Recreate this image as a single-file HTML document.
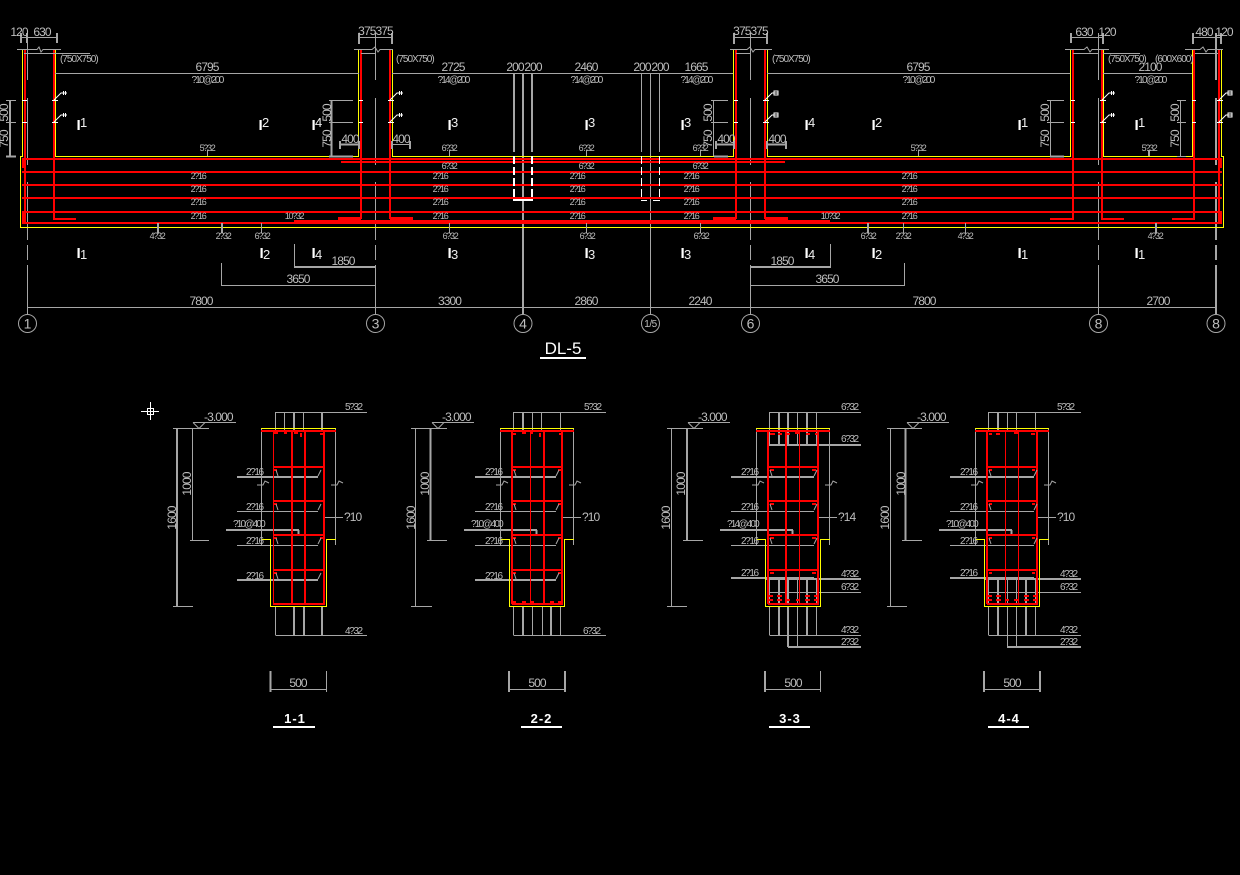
<!DOCTYPE html>
<html><head><meta charset="utf-8"><title>DL-5</title>
<style>
html,body{margin:0;padding:0;background:#000;width:1240px;height:875px;overflow:hidden}
svg{display:block}
path{fill:none;shape-rendering:crispEdges}
.g{stroke:#a6a6a6;stroke-width:1}
.G{stroke:#a6a6a6;stroke-width:2}
.r{stroke:#f00;stroke-width:2}
.R{stroke:#f00;stroke-width:3}
.n{stroke:#f00;stroke-width:1}
.y{stroke:#ff0;stroke-width:1}
.w{stroke:#fff;stroke-width:1}
.W{stroke:#fff;stroke-width:2}
.a{shape-rendering:auto}
text{font-family:"Liberation Sans",sans-serif;fill:#bdbdbd}
.t{font-size:12px;letter-spacing:-.9px;text-anchor:middle}
.l{font-size:12px;letter-spacing:-.9px}
.s{font-size:9px;letter-spacing:-1.3px;text-anchor:middle}
.m{font-size:10px;letter-spacing:-1.8px;text-anchor:middle}
.p{font-size:10px;letter-spacing:-1px}
.q{font-size:10px;letter-spacing:-1.4px}
.k{font-size:10px;letter-spacing:-1.8px}
.b{font-size:15px;font-weight:bold;fill:#fff}
.d{font-size:13px;fill:#eee}
.c{font-size:14px;text-anchor:middle}
.h{font-size:13px;font-weight:bold;fill:#fff;text-anchor:middle;letter-spacing:1px}
</style></head><body>
<svg width="1240" height="875" viewBox="0 0 1240 875" xmlns="http://www.w3.org/2000/svg">
<rect width="1240" height="875" fill="#000"/>

<!-- axes -->
<path class="g" d="M27.5 33V80M27.5 98V165M27.5 182V240M27.5 245V260M27.5 265V314
M375.5 33V80M375.5 98V165M375.5 182V240M375.5 245V260M375.5 265V314
M750.5 33V80M750.5 98V165M750.5 182V240M750.5 245V260M750.5 265V314
M1098.5 33V80M1098.5 98V165M1098.5 182V240M1098.5 245V260M1098.5 265V314
M650.5 73V314M641.5 73V152M659.5 73V152"/>
<path class="G" d="M1216 33V80M1216 98V165M1216 182V240M1216 245V260M1216 265V314M523 73V314M514 73V152M532 73V152"/>

<!-- yellow outline -->
<path class="y" d="M22.5 50V156.5H20.5V227.5H1223.5V156.5H1221.5V50M55.5 50V156.5H358.5V50M392.5 50V156.5H733.5V50M767.5 50V156.5H1070.5V50M1103.5 50V156.5H1192.5V50"/>

<!-- red -->
<path class="r" d="M22 159H1222M22 172H1222M22 185H1222M22 198H1222M22 212H1222M22 223H1222M25 49V222M54 49V219H76M361 49V219M390 49V219M736 49V219M765 49V219M1073 49V219H1050M1102 49V219H1124M1194 49V219H1172M1219 49V222"/>
<path class="r" d="M341 162H785"/>
<path class="R" d="M294 221.500H830M338 218.500H361M390 218.500H413M713 218.500H736M765 218.500H788M23.500 158V168M23.500 212V222M1220.500 158V168M1220.500 212V222"/>

<!-- white details -->
<path class="w" d="M22 100.500H27M22 122.500H27M52 100.500H58M52 122.500H58M359 100.500H363M359 122.500H363M388 100.500H394M388 122.500H394M734 100.500H738M734 122.500H738M763 100.500H769M763 122.500H769M1071 100.500H1075M1071 122.500H1075M1100 100.500H1106M1100 122.500H1106M1192 100.500H1196M1192 122.500H1196M1217 100.500H1223M1217 122.500H1223"/>
<path class="w a" d="M54 100L61 93H67M54 122L61 115H67M390 100L397 93H403M390 122L397 115H403M765 100L772 93H778M765 122L772 115H778M1102 100L1109 93H1115M1102 122L1109 115H1115M1219 100L1226 93H1232M1219 122L1226 115H1232"/>
<path class="w" d="M63.500 91V95M65.500 91V95M63.500 113V117M65.500 113V117M399.500 91V95M401.500 91V95M399.500 113V117M401.500 113V117M1111.500 91V95M1113.500 91V95M1111.500 113V117M1113.500 113V117M774 91V95H778V91ZM774 113V117H778V113ZM1228 91V95H1232V91ZM1228 113V117H1232V113Z"/>
<path class="W" d="M514 156V200M532 156V200" stroke-dasharray="8 3"/>
<path class="W" d="M513 200H524M524 200H533"/>
<path class="w" d="M641.500 156V200M659.500 156V200" stroke-dasharray="8 3"/>
<path class="w" d="M641 200.500H647M653 200.500H660"/>

<!-- top dims -->
<path class="G" d="M21 33V43M27 33V43M57 33V43M359 33V44M392 33V44M734 33V44M767 33V44M1071 33V43M1103 33V44M1193 33V44M1221 33V44"/>
<path class="g" d="M21 37.500H57M358 37.500H393M733 37.500H768M1070 37.500H1104M1192 37.500H1222
M24 53.500H90M361 53.500H375M736 53.500H750M1073 53.500H1098M1103 53.500H1140M1195 53.500H1218
M55 73.500H359M392 73.500H733M767 73.500H1070M1103 73.500H1192"/>
<path class="g a" d="M17 49.500H37L39 47L41 52L43 49.500H61M354 49.500H372L375 47L378 52L380 49.500H393M730 49.500H747L750 47L753 52L755 49.500H772M1065 49.500H1084L1087 47L1090 52L1092 49.500H1109M1185 49.500H1200L1203 47L1206 52L1208 49.500H1223"/>
<text class="t" x="19" y="36">120</text><text class="t" x="42" y="36">630</text>
<text class="t" x="375.500" y="35">375375</text><text class="t" x="750.500" y="35">375375</text>
<text class="t" x="1084" y="36">630</text><text class="t" x="1107" y="36">120</text>
<text class="t" x="1204" y="36">480</text><text class="t" x="1224" y="36">120</text>
<text class="p" x="60" y="62">(750X750)</text><text class="p" x="396" y="62">(750X750)</text><text class="p" x="772" y="62">(750X750)</text><text class="p" x="1108" y="62">(750X750)</text><text class="p" x="1155" y="62">(600X600)</text>
<text class="t" x="207" y="71">6795</text><text class="t" x="453" y="71">2725</text><text class="t" x="586" y="71">2460</text><text class="t" x="696" y="71">1665</text><text class="t" x="918" y="71">6795</text><text class="t" x="1150" y="71">2100</text>
<text class="t" x="515" y="71">200</text><text class="t" x="533" y="71">200</text><text class="t" x="642" y="71">200</text><text class="t" x="660" y="71">200</text>
<text class="m" x="207" y="83">?10@200</text><text class="m" x="453" y="83">?14@200</text><text class="m" x="586" y="83">?14@200</text><text class="m" x="696" y="83">?14@200</text><text class="m" x="918" y="83">?10@200</text><text class="m" x="1150" y="83">?10@200</text>

<!-- side dims -->
<path class="G" d="M10 100V156M6 156.500H16M331.500 100V156M329 156.500H353M1050 156.500H1064M714 156.500H728"/>
<path class="g" d="M6 100.500H16M6 122.500H16M329 100.500H353M329 122.500H353M713.500 100V156M711 100.500H728M711 122.500H728M1050.500 100V156M1047 100.500H1064M1047 122.500H1064M1180.500 100V156M1177 100.500H1186M1177 122.500H1186M1177 156.500H1186"/>
<text class="t" transform="rotate(-90 8 113)" x="8" y="113">500</text><text class="t" transform="rotate(-90 8 139)" x="8" y="139">750</text>
<text class="t" transform="rotate(-90 331 113)" x="331" y="113">500</text><text class="t" transform="rotate(-90 331 139)" x="331" y="139">750</text>
<text class="t" transform="rotate(-90 712 113)" x="712" y="113">500</text><text class="t" transform="rotate(-90 712 139)" x="712" y="139">750</text>
<text class="t" transform="rotate(-90 1049 113)" x="1049" y="113">500</text><text class="t" transform="rotate(-90 1049 139)" x="1049" y="139">750</text>
<text class="t" transform="rotate(-90 1179 113)" x="1179" y="113">500</text><text class="t" transform="rotate(-90 1179 139)" x="1179" y="139">750</text>

<!-- 400 dims -->
<path class="G" d="M340 141V149M359 141V149M392 141V149M410 141V149M716 141V149M734 141V149M767 141V149M786 141V149"/>
<path class="G" d="M340 144.500H359M716 144.500H734M767 144.500H786"/>
<path class="g" d="M392 144.500H410"/>
<text class="t" x="350" y="143">400</text><text class="t" x="401" y="143">400</text><text class="t" x="726" y="143">400</text><text class="t" x="777" y="143">400</text>

<!-- leaders -->
<path class="g" d="M207.500 150V156M449.500 150V156M586.500 150V156M700.500 150V156M918.500 150V156M261.500 223V233M868.500 223V233M903.500 223V233M965.500 223V233M449.500 223V233M586.500 223V233M700.500 223V233"/>
<path class="G" d="M1149 150V156M158 223V233M222 223V233M1156 223V233M868 223V233"/>
<text class="s" x="207" y="151">5?32</text><text class="s" x="449" y="151">6?32</text><text class="s" x="586" y="151">6?32</text><text class="s" x="700" y="151">6?32</text><text class="s" x="918" y="151">5?32</text><text class="s" x="1149" y="151">5?32</text>
<text class="s" x="449" y="169">6?32</text><text class="s" x="586" y="169">6?32</text><text class="s" x="700" y="169">6?32</text>
<text class="s" x="198" y="179">2?16</text><text class="s" x="198" y="192">2?16</text><text class="s" x="198" y="205">2?16</text><text class="s" x="198" y="219">2?16</text>
<text class="s" x="440" y="179">2?16</text><text class="s" x="440" y="192">2?16</text><text class="s" x="440" y="205">2?16</text><text class="s" x="440" y="219">2?16</text>
<text class="s" x="577" y="179">2?16</text><text class="s" x="577" y="192">2?16</text><text class="s" x="577" y="205">2?16</text><text class="s" x="577" y="219">2?16</text>
<text class="s" x="691" y="179">2?16</text><text class="s" x="691" y="192">2?16</text><text class="s" x="691" y="205">2?16</text><text class="s" x="691" y="219">2?16</text>
<text class="s" x="909" y="179">2?16</text><text class="s" x="909" y="192">2?16</text><text class="s" x="909" y="205">2?16</text><text class="s" x="909" y="219">2?16</text>
<text class="s" x="294" y="219">10?32</text><text class="s" x="830" y="219">10?32</text>
<text class="s" x="157" y="239">4?32</text><text class="s" x="223" y="239">2?32</text><text class="s" x="262" y="239">6?32</text><text class="s" x="450" y="239">6?32</text><text class="s" x="587" y="239">6?32</text><text class="s" x="701" y="239">6?32</text><text class="s" x="868" y="239">6?32</text><text class="s" x="903" y="239">2?32</text><text class="s" x="965" y="239">4?32</text><text class="s" x="1155" y="239">4?32</text>

<!-- span labels -->
<text class="b" x="76.500" y="130">I</text><text class="d" x="80" y="127">1</text>
<text class="b" x="258.500" y="130">I</text><text class="d" x="262" y="127">2</text>
<text class="b" x="311.500" y="130">I</text><text class="d" x="315" y="127">4</text>
<text class="b" x="447.500" y="130">I</text><text class="d" x="451" y="127">3</text>
<text class="b" x="584.500" y="130">I</text><text class="d" x="588" y="127">3</text>
<text class="b" x="680.500" y="130">I</text><text class="d" x="684" y="127">3</text>
<text class="b" x="804.500" y="130">I</text><text class="d" x="808" y="127">4</text>
<text class="b" x="871.500" y="130">I</text><text class="d" x="875" y="127">2</text>
<text class="b" x="1017.500" y="130">I</text><text class="d" x="1021" y="127">1</text>
<text class="b" x="1134.500" y="130">I</text><text class="d" x="1138" y="127">1</text>
<text class="b" x="76.500" y="258">I</text><text class="d" x="80" y="259">1</text>
<text class="b" x="259.500" y="258">I</text><text class="d" x="263" y="259">2</text>
<text class="b" x="311.500" y="258">I</text><text class="d" x="315" y="259">4</text>
<text class="b" x="447.500" y="258">I</text><text class="d" x="451" y="259">3</text>
<text class="b" x="584.500" y="258">I</text><text class="d" x="588" y="259">3</text>
<text class="b" x="680.500" y="258">I</text><text class="d" x="684" y="259">3</text>
<text class="b" x="804.500" y="258">I</text><text class="d" x="808" y="259">4</text>
<text class="b" x="871.500" y="258">I</text><text class="d" x="875" y="259">2</text>
<text class="b" x="1017.500" y="258">I</text><text class="d" x="1021" y="259">1</text>
<text class="b" x="1134.500" y="258">I</text><text class="d" x="1138" y="259">1</text>

<!-- lower dims -->
<path class="G" d="M294 267H376M750 267H831"/>
<path class="g" d="M294.500 244V267M830.500 244V267M221.500 263V286M904.500 263V286M221 285.500H376M750 285.500H905M27 307.500H1216"/>
<text class="t" x="343" y="265">1850</text><text class="t" x="782" y="265">1850</text><text class="t" x="298" y="283">3650</text><text class="t" x="827" y="283">3650</text>
<text class="t" x="201" y="305">7800</text><text class="t" x="449.500" y="305">3300</text><text class="t" x="586" y="305">2860</text><text class="t" x="700" y="305">2240</text><text class="t" x="924" y="305">7800</text><text class="t" x="1158" y="305">2700</text>

<!-- axis bubbles -->
<g fill="#000" stroke="#a6a6a6" stroke-width="1">
<circle cx="27.500" cy="323.500" r="9"/><circle cx="375.500" cy="323.500" r="9"/><circle cx="523" cy="323.500" r="9"/><circle cx="650.500" cy="323.500" r="9"/><circle cx="750.500" cy="323.500" r="9"/><circle cx="1098.500" cy="323.500" r="9"/><circle cx="1216" cy="323.500" r="9"/>
</g>
<text class="c" x="27.500" y="328.500">1</text><text class="c" x="375.500" y="328.500">3</text><text class="c" x="523" y="328.500">4</text><text class="c" x="650.500" y="327" style="font-size:10px;letter-spacing:-.5px">1/5</text><text class="c" x="750.500" y="328.500">6</text><text class="c" x="1098.500" y="328.500">8</text><text class="c" x="1216" y="328.500">8</text>

<!-- title -->
<text x="563" y="354" text-anchor="middle" style="font-size:17px;fill:#fff">DL-5</text>
<path class="W" d="M540 358H586"/>

<!-- crosshair -->
<path class="w" d="M141 411.500H159M150.500 402V420M147.500 408.500H153.500V414.500H147.500Z"/>

<!-- ===== Section 1-1 ===== -->
<path class="g" d="M193 422.500H236M173 428.500H209M192.500 428V540M190 540.500H209M173 606.500H193M261.500 428V545M335.500 428V545M275.500 412V430M284.500 412V430M303.500 412V430M275.500 412.500H367M275.500 606V635M275.500 635.500H367M237 511.500H318M237 545.500H318M324 517.500H343M326.500 671V692M271 689.500H327"/>
<path class="g a" d="M193 422.500L199 428.500L205 422.500M257 485H263L265 481L269 483M331 485H337L339 481L343 483"/>
<path class="G" d="M177 428V606M294 412V430M322 412V430M294 606V635M304 606V635M322 606V635M237 477H318M237 580H318M226 530H299M298.500 530V536M270.500 671V692"/>
<path class="y" d="M261 428.500H336M261.500 539.500H270.500V606.500H326.500V539.500H336"/>
<path class="r" d="M261 431H336M292 432V604M305 432V604M273 467H324M273 501H324M273 535H324M273 570H324M273 604H325M324 432V604"/>
<path class="n" d="M273.500 432V604"/>
<path class="r" d="M274 433H278M284 433H287M294 433H298M301 433V437M305 433V436M320 434H324M274 470H277M274 504H277M274 538H277M274 573H277M320 538H324"/>
<path class="g a" d="M276 470L278 476M276 504L278 510M276 538L278 544M276 573L278 579M318 476L321 470M318 510L321 504M318 544L321 538M318 579L321 573"/>
<text class="q" x="246" y="475">2?16</text><text class="q" x="246" y="510">2?16</text><text class="q" x="246" y="544">2?16</text><text class="q" x="246" y="579">2?16</text>
<text class="k" x="233" y="527">?10@400</text><text class="l" x="344" y="521">?10</text>
<text class="q" x="345" y="410">5?32</text><text class="q" x="345" y="634">4?32</text>
<text class="l" x="204" y="421">-3.000</text>
<text class="t" transform="rotate(-90 191 484)" x="191" y="484">1000</text><text class="t" transform="rotate(-90 176 518)" x="176" y="518">1600</text>
<text class="t" x="298" y="687">500</text>
<text class="h" x="295" y="723">1-1</text><path class="W" d="M273 727H315"/>

<!-- ===== Section 2-2 ===== -->
<path class="g" d="M432 422.500H474M411 428.500H447M415.500 428V606M411 606.500H432M427 540.500H447M500.500 428V545M573.500 428V545M513.500 412V430M532.500 412V430M541.500 412V430M560.500 412V430M513.500 412.500H606M513.500 606V635M532.500 606V635M542.500 606V635M560.500 606V635M513.500 635.500H606M475 511.500H556M475 545.500H556M562 517.500H581M509 689.500H565"/>
<path class="g a" d="M432 422.500L438 428.500L444 422.500M496 485H502L504 481L508 483M569 485H575L577 481L581 483"/>
<path class="G" d="M430.500 428V540M523 412V430M523 606V635M551 606V635M475 477H556M475 580H556M464 530H537M536.500 530V536M509 671V692M565 671V692"/>
<path class="y" d="M500 428.500H574M500.500 539.500H509.500V606.500H564.500V539.500H574"/>
<path class="r" d="M500 431H574M512 432V604M562 432V604M544 432V604M512 467H562M512 501H562M512 535H562M512 570H562M512 604H563"/>
<path class="n" d="M530.500 432V604"/>
<path class="r" d="M512 434H516M522 433H526M530 433H533M540 433V437M559 434H562M513 470H516M513 504H516M513 538H516M513 573H516M558 470H561M558 504H561M558 538H561M558 573H561M512 602H516M522 602H526M530 602H534M550 602H554M558 602H562"/>
<path class="g a" d="M514 470L516 476M514 504L516 510M514 538L516 544M514 573L516 579M556 476L559 470M556 510L559 504M556 544L559 538M556 579L559 573"/>
<text class="q" x="485" y="475">2?16</text><text class="q" x="485" y="510">2?16</text><text class="q" x="485" y="544">2?16</text><text class="q" x="485" y="579">2?16</text>
<text class="k" x="471" y="527">?10@400</text><text class="l" x="582" y="521">?10</text>
<text class="q" x="584" y="410">5?32</text><text class="q" x="583" y="634">6?32</text>
<text class="l" x="442" y="421">-3.000</text>
<text class="t" transform="rotate(-90 429 484)" x="429" y="484">1000</text><text class="t" transform="rotate(-90 415 518)" x="415" y="518">1600</text>
<text class="t" x="537" y="687">500</text>
<text class="h" x="541.500" y="723">2-2</text><path class="W" d="M521 727H562"/>

<!-- ===== Section 3-3 ===== -->
<path class="g" d="M688 422.500H730M667 428.500H703M671.500 428V606M667 606.500H687M683 540.500H703M756.500 428V545M829.500 428V545M769.500 412V445M797.500 412V445M816.500 412V445M769.500 412.500H861M731 511.500H814M731 545.500H814M818 517.500H837M769.500 592.500H861M769.500 580V604M797.500 580V604M816.500 580V604M769.500 606V635M797.500 606V647M816.500 606V635M769.500 635.500H861M765 689.500H821M820.500 671V692"/>
<path class="g a" d="M688 422.500L694 428.500L700 422.500M752 485H758L760 481L764 483M825 485H831L833 481L837 483"/>
<path class="G" d="M687 428V540M779 412V445M788 412V445M807 412V445M769 445H861M731 477H814M720 530H793M792.500 530V536M731 578H814M765 579H861M779 580V604M788 580V604M807 580V604M779 606V635M788 606V647M807 606V635M788 647H861M765 671V692"/>
<path class="y" d="M756 428.500H830M756.500 539.500H765.500V606.500H820.500V539.500H830"/>
<path class="r" d="M756 431H830M768 432V604M818 432V604M786 432V604M768 467H818M768 501H818M768 535H818M768 570H818M768 604H819"/>
<path class="n" d="M799.500 432V604"/>
<path class="r" d="M770 434H775M778 434H782M786 434H790M795 433H800M806 434H810M815 434H818M770 470H774M770 504H774M770 538H774M770 573H774M812 470H816M812 504H816M812 538H816M812 573H816M768 596H773M768 600H773M777 596H782M777 600H782M786 600H790M796 600H800M805 596H810M805 600H810M814 596H819M814 600H819"/>
<path class="g a" d="M770 470L772 476M770 504L772 510M770 538L772 544M814 476L817 470M814 510L817 504M814 544L817 538"/>
<text class="q" x="741" y="475">2?16</text><text class="q" x="741" y="510">2?16</text><text class="q" x="741" y="544">2?16</text><text class="q" x="741" y="576">2?16</text>
<text class="k" x="727" y="527">?14@400</text><text class="l" x="838" y="521">?14</text>
<text class="q" x="841" y="410">6?32</text><text class="q" x="841" y="442">6?32</text><text class="q" x="841" y="577">4?32</text><text class="q" x="841" y="590">6?32</text><text class="q" x="841" y="633">4?32</text><text class="q" x="841" y="645">2?32</text>
<text class="l" x="698" y="421">-3.000</text>
<text class="t" transform="rotate(-90 685 484)" x="685" y="484">1000</text><text class="t" transform="rotate(-90 670 518)" x="670" y="518">1600</text>
<text class="t" x="793" y="687">500</text>
<text class="h" x="790" y="723">3-3</text><path class="W" d="M769 727H810"/>

<!-- ===== Section 4-4 ===== -->
<path class="g" d="M907 422.500H949M887 428.500H922M890.500 428V606M887 606.500H907M902 540.500H922M975.500 428V545M1048.500 428V545M988.500 412V430M1007.500 412V430M1016.500 412V430M1035.500 412V430M988.500 412.500H1081M950 511.500H1034M950 545.500H1034M1037 517.500H1056M988.500 592.500H1081M988.500 580V604M1007.500 580V604M1016.500 580V604M1035.500 580V604M988.500 606V635M1007.500 606V647M1016.500 606V647M1035.500 606V635M988.500 635.500H1081M984 689.500H1040"/>
<path class="g a" d="M907 422.500L913 428.500L919 422.500M971 485H977L979 481L983 483M1044 485H1050L1052 481L1056 483"/>
<path class="G" d="M905.500 428V540M998 412V430M950 477H1034M939 530H1012M1011.500 530V536M950 578H1034M985 579H1081M998 580V604M1026 580V604M998 606V635M1026 606V635M1007 647H1081M984 671V692M1040 671V692"/>
<path class="y" d="M975 428.500H1049M975.500 539.500H984.500V606.500H1039.500V539.500H1049"/>
<path class="r" d="M975 431H1049M987 432V604M1037 432V604M987 467H1037M987 501H1037M987 535H1037M987 570H1037M987 604H1038"/>
<path class="n" d="M1005.500 432V604M1018.500 432V604"/>
<path class="r" d="M989 434H992M996 434H1000M1014 433H1019M1031 434H1035M989 470H992M989 504H992M989 538H992M989 573H992M1032 470H1035M1032 504H1035M1032 538H1035M1032 573H1035M987 596H992M987 600H992M996 596H1001M996 600H1001M1005 600H1009M1014 600H1018M1024 596H1029M1024 600H1029M1033 596H1038M1033 600H1038"/>
<path class="g a" d="M989 470L991 476M989 504L991 510M989 538L991 544M1034 476L1037 470M1034 510L1037 504M1034 544L1037 538"/>
<text class="q" x="960" y="475">2?16</text><text class="q" x="960" y="510">2?16</text><text class="q" x="960" y="544">2?16</text><text class="q" x="960" y="576">2?16</text>
<text class="k" x="946" y="527">?10@400</text><text class="l" x="1057" y="521">?10</text>
<text class="q" x="1057" y="410">5?32</text><text class="q" x="1060" y="577">4?32</text><text class="q" x="1060" y="590">6?32</text><text class="q" x="1060" y="633">4?32</text><text class="q" x="1060" y="645">2?32</text>
<text class="l" x="917" y="421">-3.000</text>
<text class="t" transform="rotate(-90 905 484)" x="905" y="484">1000</text><text class="t" transform="rotate(-90 889 518)" x="889" y="518">1600</text>
<text class="t" x="1012" y="687">500</text>
<text class="h" x="1009" y="723">4-4</text><path class="W" d="M988 727H1029"/>
</svg>
</body></html>
